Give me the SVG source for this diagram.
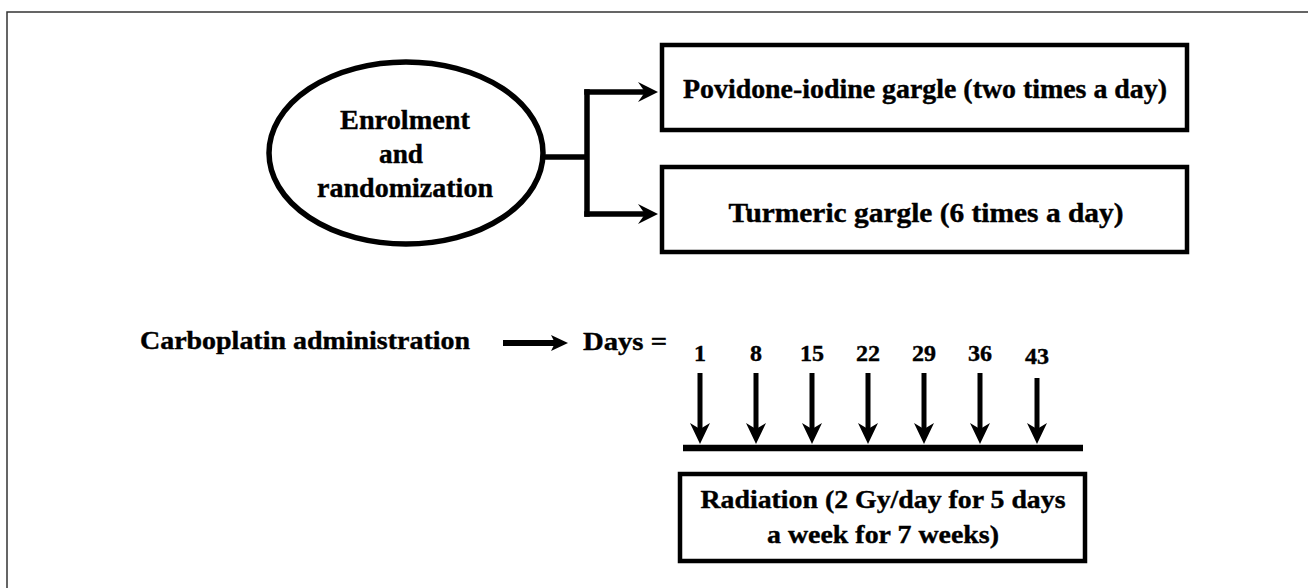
<svg xmlns="http://www.w3.org/2000/svg" width="1308" height="588" viewBox="0 0 1308 588">
<style>
text{font-family:"Liberation Serif","Times New Roman",serif;font-weight:bold;fill:#000;stroke:#000;stroke-width:0.4;}
.frame{fill:none;stroke:#333;stroke-width:1.5;}
.box{fill:#fff;stroke:#000;stroke-width:4.5;}
.ln{fill:none;stroke:#000;stroke-width:5.5;}
.shaft{fill:none;stroke:#000;stroke-width:5;}
.head{fill:#000;stroke:none;}
</style>
<defs>
<path id="hR" class="head" d="M0,0 L-20,-10 L-13,0 L-20,10 Z"/>
<path id="hD" class="head" d="M0,0 L-10,-21 L0,-15 L10,-21 Z"/>
</defs>
<rect x="0" y="0" width="1308" height="588" fill="#fff"/>
<path class="frame" d="M7,600 L7,12 L1320,12"/>

<g id="enrolment">
<ellipse cx="406" cy="153" rx="137" ry="91" fill="#fff" stroke="#000" stroke-width="5.5"/>
<text x="405" y="129" font-size="28" text-anchor="middle" textLength="130" lengthAdjust="spacingAndGlyphs">Enrolment</text>
<text x="401" y="163" font-size="28" text-anchor="middle" textLength="44" lengthAdjust="spacingAndGlyphs">and</text>
<text x="405" y="197" font-size="28" text-anchor="middle" textLength="176" lengthAdjust="spacingAndGlyphs">randomization</text>
</g>

<g id="povidone">
<rect class="box" x="662" y="45" width="525" height="85"/>
<text x="925" y="98" font-size="27" text-anchor="middle" textLength="484" lengthAdjust="spacingAndGlyphs">Povidone-iodine gargle (two times a day)</text>
</g>

<g id="turmeric">
<rect class="box" x="662" y="167" width="525" height="85"/>
<text x="926" y="222" font-size="27" text-anchor="middle" textLength="395" lengthAdjust="spacingAndGlyphs">Turmeric gargle (6 times a day)</text>
</g>

<g id="carboplatin">
<text x="140" y="349" font-size="25" textLength="330" lengthAdjust="spacingAndGlyphs">Carboplatin administration</text>
</g>

<g id="days">
<text x="583" y="350" font-size="25" textLength="84" lengthAdjust="spacingAndGlyphs">Days =</text>
</g>

<g id="day-numbers" font-size="24">
<text x="700" y="361" text-anchor="middle">1</text>
<text x="756" y="361" text-anchor="middle">8</text>
<text x="812" y="361" text-anchor="middle">15</text>
<text x="868" y="361" text-anchor="middle">22</text>
<text x="924" y="361" text-anchor="middle">29</text>
<text x="980" y="361" text-anchor="middle">36</text>
<text x="1037" y="364" text-anchor="middle">43</text>
</g>

<g id="timeline">
<line x1="683" y1="448" x2="1083" y2="448" stroke="#000" stroke-width="6.5"/>
</g>

<g id="radiation">
<rect class="box" x="680" y="474" width="405" height="87"/>
<text x="883" y="508" font-size="26" text-anchor="middle" textLength="365" lengthAdjust="spacingAndGlyphs">Radiation (2 Gy/day for 5 days</text>
<text x="883" y="543" font-size="26" text-anchor="middle" textLength="232" lengthAdjust="spacingAndGlyphs">a week for 7 weeks)</text>
</g>

<g id="connectors">
<path class="ln" d="M543,157 L587,157"/>
<path class="ln" d="M587,89.25 L587,216.75"/>
<path class="ln" d="M584.25,92 L645,92"/>
<path class="ln" d="M584.25,214 L645,214"/>
<use href="#hR" x="658" y="92"/>
<use href="#hR" x="658" y="214"/>
<line x1="503" y1="343" x2="557" y2="343" stroke="#000" stroke-width="6"/>
<path class="head" d="M568,343 L551,335 L555,343 L551,351 Z"/>
<line class="shaft" x1="700" y1="373" x2="700" y2="432"/>
<line class="shaft" x1="756" y1="373" x2="756" y2="432"/>
<line class="shaft" x1="812" y1="373" x2="812" y2="432"/>
<line class="shaft" x1="868" y1="373" x2="868" y2="432"/>
<line class="shaft" x1="924" y1="373" x2="924" y2="432"/>
<line class="shaft" x1="980" y1="373" x2="980" y2="432"/>
<line class="shaft" x1="1037" y1="378" x2="1037" y2="432"/>
<use href="#hD" x="700" y="444"/>
<use href="#hD" x="756" y="444"/>
<use href="#hD" x="812" y="444"/>
<use href="#hD" x="868" y="444"/>
<use href="#hD" x="924" y="444"/>
<use href="#hD" x="980" y="444"/>
<use href="#hD" x="1037" y="444"/>
</g>
</svg>
